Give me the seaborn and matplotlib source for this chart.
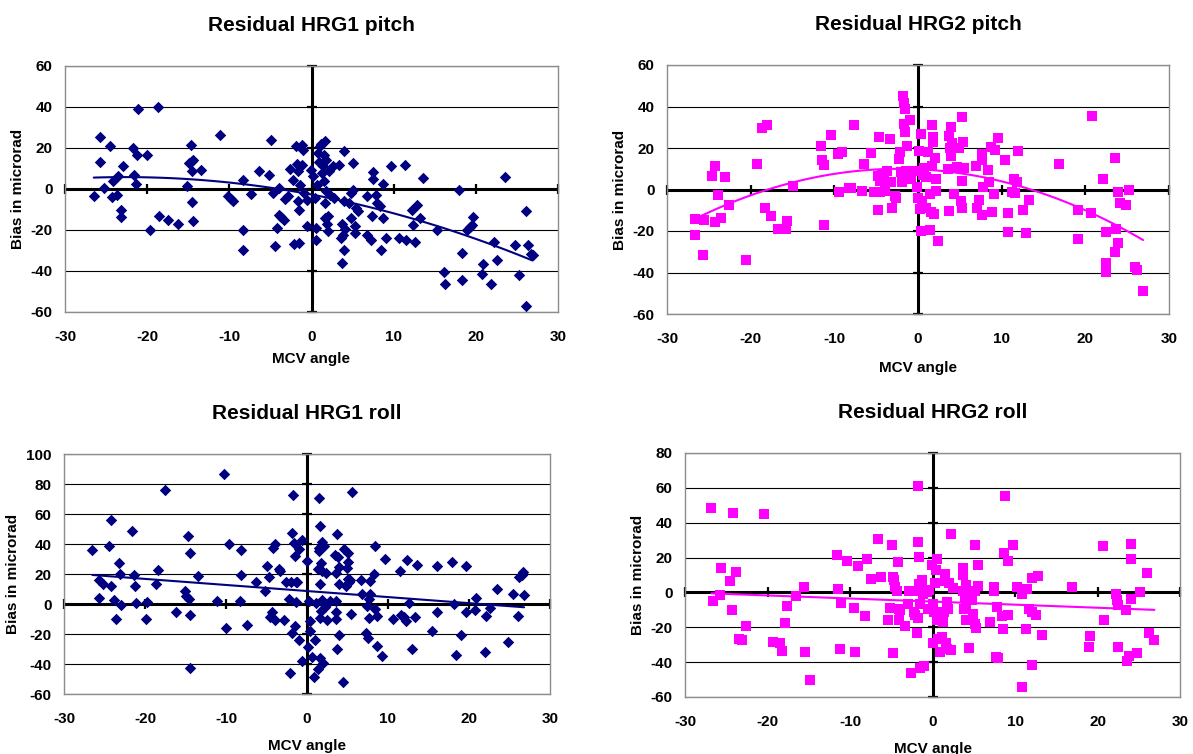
import numpy as np
import pandas as pd
import matplotlib
matplotlib.use("Agg")
import matplotlib.pyplot as plt
import seaborn as sns

# ---- data: MCV angle vs. residual bias (microrad) ----
hrg1_pitch_x = [-26.5, -25.7, -25.7, -25.2, -24.5, -24.3, -24.1, -23.7, -23.5, -23.2, -23.2, -23.0,
                -21.7, -21.6, -21.4, -21.2, -21.1, -20.0, -19.7, -18.7, -18.5, -17.5, -16.3, -15.1,
                -14.9, -14.7, -14.5, -14.5, -14.4, -14.5, -14.4, -13.5, -11.1, -10.2, -9.8, -9.6,
                -8.3, -8.3, -8.3, -7.4, -6.4, -5.2, -4.9, -4.7, -4.5, -4.2, -4.0, -3.9, -3.7, -3.4,
                -3.2, -2.9, -2.6, -2.3, -2.1, -1.9, -1.8, -1.7, -1.6, -1.5, -1.5, -1.4, -1.2, -1.1,
                -1.0, -0.9, -0.6, -0.5, -0.1, 0.2, 0.4, 0.5, 0.5, 0.7, 0.8, 0.9, 1.0, 1.1, 1.3, 1.4,
                1.5, 1.5, 1.6, 1.6, 1.7, 1.8, 1.8, 1.9, 2.0, 2.0, 2.1, 2.3, 2.6, 2.7, 3.4, 3.6, 3.7,
                3.7, 3.8, 3.9, 3.9, 4.0, 4.1, 4.6, 4.8, 4.8, 5.0, 5.1, 5.3, 5.3, 5.4, 5.7, 6.8, 6.8,
                7.2, 7.4, 7.5, 7.5, 7.8, 8.0, 8.3, 8.4, 8.7, 8.7, 9.1, 9.7, 10.6, 11.4, 11.5, 12.2,
                12.4, 12.6, 12.9, 13.2, 13.6, 15.3, 16.1, 16.2, 17.9, 18.3, 18.3, 18.9, 19.3, 19.5,
                19.6, 20.9, 20.8, 21.9, 22.2, 22.6, 23.5, 24.8, 25.3, 26.1, 26.1, 26.4, 26.7, 26.9]
hrg1_pitch_y = [-3.6, 25.2, 13.4, 0.5, 20.8, -4.1, 4.1, -2.8, 6.2, -10.1, -13.5, 11.1,
                20.0, 7.0, 2.4, 16.4, 39.1, 16.4, -19.9, 39.9, -13.4, -15.0, -16.9, 1.6,
                12.7, 21.3, 13.7, 8.6, 14.0, -6.4, -15.8, 9.4, 26.4, -3.6, -4.7, -5.7,
                4.6, -20.2, -30.0, -2.3, 8.8, 7.0, 23.9, -2.0, -28.0, -18.9, 0.5, -12.5, -13.7, -15.0,
                -4.7, -3.6, 9.8, 4.6, -26.9, 20.8, 12.2, -5.7, 8.6, -26.1, -10.4, 2.1, 11.6, 21.3,
                18.9, -2.0, -5.2, -18.2, 9.1, 6.2, -4.2, -24.8, -19.2, 2.1, 17.6, 13.0, 20.8, 22.1, 7.8, 11.1,
                3.7, 16.6, 23.3, -14.2, -6.8, 14.3, -0.8, -16.9, -13.4, -20.4, 8.6, -3.1, 11.1, -4.4, 11.6, -23.9, -16.9,
                -36.2, -22.3, -5.7, -30.0, 18.4, -19.5, -6.8, -14.2, -2.0, -0.3, 12.7, -21.5, -18.2, -9.3, -10.6, -3.6, -22.6,
                -24.8, -13.4, 8.1, 5.0, -2.9, -6.8, -8.5, -29.6, 2.4, -14.2, -23.9, 11.4, -23.9, 11.6, -24.8, -10.1,
                -17.6, -25.7, -8.0, -14.2, 5.4, -19.9, -40.6, -46.3, -0.3, -31.3, -44.6, -19.9, -18.7, -17.6,
                -13.5, -36.5, -41.4, -46.4, -25.7, -34.5, 5.7, -27.4, -42.0, -10.9, -57.3, -27.4, -31.6, -32.2]

hrg2_pitch_x = [-26.7, -26.6, -25.6, -25.7, -24.6, -24.3, -24.3, -23.9, -23.5, -23.1, -22.6, -20.5,
                -19.3, -18.7, -18.0, -18.3, -17.6, -16.7, -15.8, -15.7, -15.0, -11.6, -11.5, -11.2,
                -11.2, -10.4, -9.6, -9.5, -9.1, -8.3, -8.0, -7.6, -6.7, -6.4, -5.6, -5.3, -4.8, -4.8,
                -4.7, -4.6, -4.5, -4.3, -4.1, -3.9, -3.7, -3.4, -3.2, -3.1, -2.7, -2.6, -2.3, -2.1,
                -2.0, -1.9, -1.8, -1.7, -1.6, -1.7, -1.6, -1.4, -1.3, -1.0, -0.8, -0.4, -0.1, 0.0,
                0.1, 0.2, 0.3, 0.4, 0.5, 0.6, 0.7, 1.0, 1.0, 1.2, 1.4, 1.4, 1.5, 1.7, 1.7, 1.8, 1.8,
                1.9, 2.0, 2.1, 2.1, 2.4, 3.6, 3.7, 3.7, 3.8, 3.9, 4.0, 4.1, 4.3, 4.7, 4.9, 5.1, 5.2,
                5.2, 5.3, 5.4, 5.5, 6.9, 7.1, 7.3, 7.6, 7.7, 7.7, 7.8, 8.4, 8.5, 8.7, 8.8, 9.2, 9.1,
                9.6, 10.4, 10.7, 10.8, 11.2, 11.5, 11.6, 11.8, 11.9, 12.5, 12.9, 13.3, 16.9, 19.1,
                19.1, 20.7, 20.8, 22.1, 22.5, 22.5, 22.5, 23.5, 23.5, 23.7, 23.9, 23.9, 24.1, 24.9,
                25.2, 25.9, 26.2, 26.9]
hrg2_pitch_y = [-14.3, -21.7, -14.7, -31.4, 6.3, 11.4, -15.9, -2.6, -13.5, 5.8, -7.6, -34.0,
                12.4, 29.6, 31.2, -9.0, -12.6, -19.0, -19.0, -15.1, 1.8, 20.8, 14.2, 11.9,
                -16.9, 26.1, 17.2, -1.4, 17.9, 0.8, 0.5, 31.2, -0.6, 12.2, 17.7, -1.1, -9.7, 6.3,
                25.4, 4.2, -1.4, 7.4, 4.2, -0.6, 9.0, 24.5, 3.7, -9.0, -3.1, -4.2, 14.5, 18.2,
                8.2, 3.4, 45.2, 41.5, 38.8, 31.4, 27.9, 9.0, 21.1, 33.5, 5.0, 8.7, 1.0, -4.3,
                18.7, -9.2, 26.9, -20.0, -5.6, 6.9, 10.6, -8.7, 6.1, 17.9, -2.4, -19.5, -10.8, 11.4, 31.1, 25.1, 23.0,
                -11.6, 15.0, 5.0, -0.6, -24.8, 9.8, -10.6, 25.9, 19.8, 30.0, 16.3, 22.4, -2.4, 11.0, 20.1, -5.6, -9.0,
                34.8, 4.3, 22.7, 10.5, 11.4, -8.7, -5.3, -12.4, 16.9, 14.3, 1.3, 9.5, 3.7, 20.6, -10.8, 19.2, -2.3,
                24.6, 14.3, -20.5, -11.1, -1.1, 5.3, -1.9, 3.4, 18.7, -10.0, -20.8, -5.2, 12.2, -9.7,
                -24.0, -11.1, 35.3, 5.3, -20.5, -35.3, -39.8, -30.0, 15.3, -19.2, -25.6, -1.0, -6.3, -7.4,
                -0.3, -37.2, -38.8, -49.0]

hrg1_roll_x = [-26.5, -25.7, -25.7, -25.2, -24.5, -24.2, -24.2, -23.8, -23.6, -23.2, -23.1, -23.0,
               -21.6, -21.4, -21.2, -21.1, -19.9, -19.7, -18.7, -18.4, -17.5, -16.2, -15.1, -15.0,
               -14.7, -14.6, -14.5, -14.5, -14.4, -13.4, -11.1, -10.2, -10.0, -9.6, -8.3, -8.2, -8.1,
               -7.4, -6.3, -5.2, -4.9, -4.7, -4.6, -4.3, -4.2, -4.0, -3.9, -3.5, -3.3, -2.8, -2.6,
               -2.2, -2.1, -2.0, -1.9, -1.8, -1.7, -1.6, -1.5, -1.5, -1.4, -1.3, -1.2, -1.0, -1.0,
               -0.6, -0.6, 0.0, 0.1, 0.3, 0.4, 0.4, 0.6, 0.9, 1.0, 1.1, 1.3, 1.3, 1.5, 1.5, 1.5, 1.6,
               1.6, 1.6, 1.6, 1.7, 1.7, 1.8, 1.9, 1.9, 2.0, 2.1, 2.2, 2.4, 2.5, 2.8, 3.5, 3.6, 3.6,
               3.6, 3.6, 3.7, 3.7, 3.8, 3.9, 4.0, 4.0, 4.4, 4.6, 4.8, 4.9, 5.0, 5.1, 5.1, 5.2, 5.3,
               5.4, 5.6, 6.7, 6.8, 7.3, 7.4, 7.5, 7.6, 7.7, 7.8, 7.8, 8.3, 8.4, 8.4, 8.6, 8.6, 9.2,
               9.6, 10.6, 11.5, 11.6, 12.0, 12.2, 12.3, 12.6, 13.0, 13.3, 13.6, 15.4, 16.0, 16.1,
               17.9, 18.2, 18.4, 19.0, 19.6, 19.6, 20.8, 20.9, 22.0, 22.1, 22.6, 23.4, 24.8, 25.4,
               26.1, 26.2, 26.5, 26.7, 26.8]
hrg1_roll_y = [35.9, 15.8, 4.2, 13.2, 39.0, 56.3, 11.7, 2.6, -10.1, 27.5, 19.8, -0.7,
               48.9, 19.4, 11.9, 0.9, -10.1, 1.3, 13.6, 22.9, 75.9, -5.1, 8.8, 5.5,
               45.6, 3.5, 33.9, -7.3, -42.7, 18.9, 2.0, 86.7, -15.8, 40.3, 1.8, 19.6, 36.3,
               -13.9, 15.0, 9.0, 25.5, 17.8, -8.8, -5.1, 37.4, 40.1, -10.6, 23.1, 22.0, -10.8, 15.0,
               3.5, -45.8, 15.0, 47.3, -19.4, 72.6, 40.5, 32.1, -14.5, 15.0, 1.1, 14.7, 37.0, -23.8,
               42.5, -37.9, 28.6, -28.8, 2.2, -17.8, -11.0, -35.2, -48.9, -23.8, 0.7, -43.6, 23.3, 70.9, 37.4, 35.2, 52.2,
               13.2, -9.2, -36.3, 27.5, -4.4, 22.0, 41.4, 2.9, -39.6, 38.5, -2.2, 20.9, -10.6, 2.2, 33.0, 2.2, 20.7,
               -5.3, -10.1, -29.7, 46.7, 31.2, 13.2, -20.9, 24.6, -52.2, 36.8, 12.1, 24.2, 16.5, 33.9, 28.2, 14.5, 15.8,
               -6.4, 74.8, 15.8, 6.8, -19.1, -1.3, -22.9, -9.2, 3.3, 15.4, 6.6, 19.8, 38.5, -3.1, -8.1, -28.2, -34.6,
               29.7, -10.1, 22.0, -7.3, -8.8, -11.0, 29.3, 0.9, -29.7, -8.8, 26.0, -18.0, -5.1, 25.3,
               27.9, 0.0, -34.1, -20.9, -5.1, 25.3, -4.0, 4.2, -31.9, -7.7, -2.6, 10.3, -25.5, 6.6,
               -7.7, 18.3, 19.4, 21.3, 6.2]

hrg2_roll_x = [-26.8, -26.6, -25.7, -25.6, -24.5, -24.3, -24.2, -23.8, -23.4, -23.1, -22.6, -20.4,
               -19.3, -18.5, -18.3, -17.9, -17.6, -16.6, -15.6, -15.5, -14.9, -11.5, -11.6, -11.1,
               -11.2, -10.4, -9.5, -9.4, -9.0, -8.2, -7.9, -7.5, -6.6, -6.3, -5.4, -5.2, -4.9, -4.8,
               -4.8, -4.7, -4.6, -4.3, -4.2, -4.1, -4.1, -3.9, -3.3, -3.0, -2.8, -2.6, -2.3, -2.2,
               -2.1, -1.9, -1.8, -1.7, -1.7, -1.6, -1.6, -1.5, -1.5, -1.3, -1.2, -1.0, -0.7, -0.5,
               -0.4, -0.1, 0.0, 0.1, 0.2, 0.3, 0.4, 0.5, 0.5, 0.7, 0.9, 1.1, 1.3, 1.4, 1.5, 1.5, 1.6,
               1.8, 1.8, 1.9, 2.0, 2.2, 2.2, 2.5, 3.7, 3.7, 3.7, 3.8, 3.9, 4.0, 4.0, 4.1, 4.4, 4.6,
               4.8, 4.9, 5.1, 5.1, 5.2, 5.3, 5.5, 5.5, 7.0, 7.4, 7.5, 7.7, 7.8, 7.9, 8.4, 8.5, 8.7,
               8.8, 9.2, 9.2, 9.7, 10.3, 10.8, 10.9, 11.3, 11.5, 11.7, 12.0, 12.0, 12.0, 12.6, 12.8,
               13.3, 16.9, 19.1, 19.0, 20.7, 20.8, 22.2, 22.4, 22.5, 22.5, 23.5, 23.6, 23.8, 24.0,
               24.0, 24.1, 24.8, 25.1, 26.0, 26.2, 26.9]
hrg2_roll_y = [48.2, -5.1, -1.7, 13.9, 6.3, -10.3, 45.3, 11.6, -26.5, -27.4, -19.4, 44.8,
               -28.4, -29.0, -33.7, -17.5, -8.0, -2.1, 3.0, -34.1, -50.3, 1.7, 21.5, -5.9,
               -32.4, 18.3, -9.0, -34.3, 14.9, -13.7, 19.4, 7.8, 30.7, 8.8, -15.6, -9.0, 27.2, 8.8,
               -35.0, 6.9, 3.0, 1.1, 17.3, -9.5, -15.6, -10.3, -19.2, -6.5, 1.1, -46.5, -11.2, 1.1,
               -13.1, -23.2, -14.9, 61.1, 28.8, 5.0, 20.2, -43.6, -6.9, 7.2, -0.8, -42.3, 0.2, -9.3,
               1.5, 16.0, -6.5, -29.0, -11.2, 5.3, 12.6, 19.2, -15.6, -26.5, -34.1, -25.5, -17.1, -11.2, 10.3, 6.5, -29.3,
               -32.6, -5.5, -9.3, 5.3, 33.5, -32.8, 2.7, 0.6, 13.9, 10.1, -9.3, -2.7, 4.0, -15.6, -6.5, -31.8, -1.1,
               -4.6, -12.6, 27.4, 1.1, -17.9, -20.4, 16.0, 3.6, -17.0, 3.0, 1.1, -37.0, -8.4, -37.9, -13.3, -21.1, 22.5,
               55.4, -13.1, 17.9, 27.4, 3.4, -54.1, -0.8, -21.1, 2.1, -9.7, -11.2, -41.9, 8.2, -13.1, 9.3,
               -24.2, 3.0, -25.1, -31.2, 26.9, -15.6, -1.1, -4.6, -7.0, -31.2, -10.3, -39.2, -36.4, 18.9,
               27.8, -4.0, -35.0, 0.0, 11.2, -23.0, -27.4]

x_ticks = [-30, -20, -10, 0, 10, 20, 30]
pitch_ticks = [-60, -40, -20, 0, 20, 40, 60]
hrg1_roll_ticks = [-60, -40, -20, 0, 20, 40, 60, 80, 100]
hrg2_roll_ticks = [-60, -40, -20, 0, 20, 40, 60, 80]

NAVY = "#000080"
MAGENTA = "#FF00FF"

sns.set_theme(style="white")
plt.rcParams["font.family"] = ["Liberation Sans", "DejaVu Sans"]
plt.rcParams["font.weight"] = "bold"
plt.rcParams["axes.unicode_minus"] = False
for key in ["text.color", "axes.labelcolor", "xtick.color", "ytick.color", "axes.titlecolor"]:
    plt.rcParams[key] = "black"

fig = plt.figure(figsize=(11.93, 7.54), dpi=100)
W, H = 1193.0, 754.0


def add_panel(left, right, top, bottom):
    return fig.add_axes([left / W, 1 - bottom / H, (right - left) / W, (bottom - top) / H])


def draw_panel(ax, xs, ys, yticks, color, marker, msize, order, title, xlabelpad=9):
    df = pd.DataFrame({"MCV angle": xs, "Bias in microrad": ys})
    ax.set_xlim(x_ticks[0], x_ticks[-1])
    ax.set_ylim(yticks[0], yticks[-1])
    ax.set_xticks(x_ticks)
    ax.set_yticks(yticks)
    ax.yaxis.grid(True, color="black", linewidth=0.8)
    ax.xaxis.grid(False)
    ax.set_axisbelow(True)
    # axes crossing at the origin
    ax.axhline(0, color="black", linewidth=2.2, zorder=1.5)
    ax.axvline(0, color="black", linewidth=2.2, zorder=1.5)
    ax.plot(x_ticks, [0] * len(x_ticks), linestyle="none", marker="|",
            markersize=7, markeredgewidth=1.6, color="black", zorder=1.6, clip_on=False)
    ax.plot([0] * len(yticks), yticks, linestyle="none", marker="_",
            markersize=7, markeredgewidth=1.6, color="black", zorder=1.6, clip_on=False)
    sns.scatterplot(data=df, x="MCV angle", y="Bias in microrad", ax=ax,
                    marker=marker, s=msize, color=color, edgecolor=color,
                    linewidth=0, zorder=3)
    sns.regplot(data=df, x="MCV angle", y="Bias in microrad", ax=ax,
                order=order, ci=None, scatter=False, truncate=True,
                line_kws={"color": color, "linewidth": 1.5, "zorder": 4})
    ax.set_xlim(x_ticks[0], x_ticks[-1])
    ax.set_ylim(yticks[0], yticks[-1])
    for side in ["left", "right", "top", "bottom"]:
        ax.spines[side].set_color("#8c8c8c")
        ax.spines[side].set_linewidth(1.0)
    ax.tick_params(axis="both", length=0, labelsize=11, labelcolor="black")
    ax.tick_params(axis="x", pad=13)
    ax.tick_params(axis="y", pad=9)
    for lab in ax.get_xticklabels() + ax.get_yticklabels():
        lab.set_fontweight("bold")
    ax.set_xlabel("MCV angle", fontsize=11, fontweight="bold", labelpad=xlabelpad, color="black")
    ax.set_ylabel("Bias in microrad", fontsize=11, fontweight="bold", labelpad=4, color="black")
    ax.set_title(title, fontsize=15, fontweight="bold", pad=25, color="black")


ax1 = add_panel(65, 558, 66, 312)
draw_panel(ax1, hrg1_pitch_x, hrg1_pitch_y, pitch_ticks, NAVY, "D", 34, 2,
           "Residual HRG1 pitch", xlabelpad=6)

ax2 = add_panel(667, 1169, 65, 314)
draw_panel(ax2, hrg2_pitch_x, hrg2_pitch_y, pitch_ticks, MAGENTA, "s", 42, 2,
           "Residual HRG2 pitch", xlabelpad=11)

ax3 = add_panel(64, 550, 454, 694)
draw_panel(ax3, hrg1_roll_x, hrg1_roll_y, hrg1_roll_ticks, NAVY, "D", 34, 1,
           "Residual HRG1 roll", xlabelpad=9)

ax4 = add_panel(685, 1180, 453, 697)
draw_panel(ax4, hrg2_roll_x, hrg2_roll_y, hrg2_roll_ticks, MAGENTA, "s", 42, 1,
           "Residual HRG2 roll", xlabelpad=9)

fig.savefig("out.png", dpi=100, facecolor="white")
